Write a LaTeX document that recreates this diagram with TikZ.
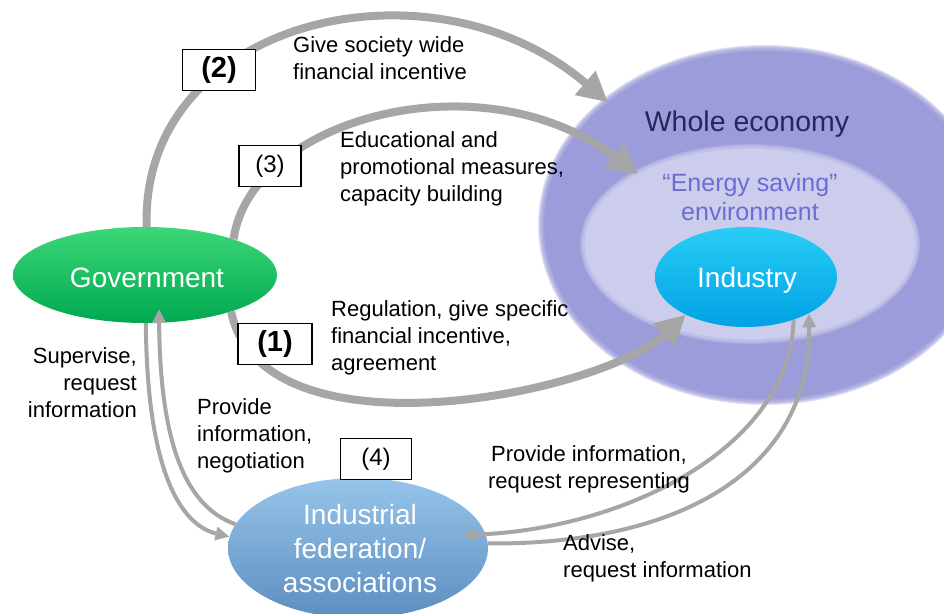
\documentclass[tikz,border=0pt]{standalone}
\usepackage{fontspec}
\setmainfont{Liberation Sans}
\usetikzlibrary{shapes.geometric,arrows.meta,calc}

\definecolor{arrowgrey}{RGB}{166,166,166}
\definecolor{ecofill}{RGB}{156,156,219}
\definecolor{envfill}{RGB}{204,204,237}
\definecolor{ecotext}{RGB}{38,38,92}
\definecolor{envtext}{RGB}{108,108,210}
\definecolor{govtop}{RGB}{60,215,120}
\definecolor{govmid}{RGB}{10,190,95}
\definecolor{govbot}{RGB}{0,168,80}
\definecolor{fedtop}{RGB}{150,196,234}
\definecolor{fedbot}{RGB}{92,142,192}
\definecolor{indtop}{RGB}{40,205,245}
\definecolor{indbot}{RGB}{0,162,228}

\begin{document}
\begin{tikzpicture}[x=1pt,y=-1pt,
  bigarrow/.style={draw=arrowgrey, line width=8pt, -{Triangle[length=30pt,width=30pt]}},
  thinarrow/.style={draw=arrowgrey, line width=4pt, -{Triangle[length=14pt,width=13pt]}},
  numbox/.style={draw=black, line width=1.8pt, fill=white, minimum height=41pt, inner sep=0pt},
  lbl/.style={font=\fontsize{22}{27}\selectfont, inner sep=0pt, text=black},
  oval/.style={ellipse, inner sep=0pt},
  ovaltext/.style={text=white, inner sep=0pt, align=center, font=\fontsize{28}{34}\selectfont}]

\useasboundingbox (0,0) rectangle (944,613);
\fill[white] (0,0) rectangle (944,613);

% whole economy, with a soft rim
\foreach \d in {1,...,6}
  \fill[ecofill, opacity=0.3] (765,225) ellipse [x radius={(221+\d)*1pt}, y radius={(174+\d)*1pt}];
\node[oval, fill=ecofill, minimum width=442pt, minimum height=348pt] (eco) at (765,225) {};

% energy saving environment, with a soft rim
\foreach \d in {1,...,5}
  \fill[envfill, opacity=0.3] (750,244) ellipse [x radius={(165+\d)*1pt}, y radius={(95+\d)*1pt}];
\node[oval, fill=envfill, minimum width=330pt, minimum height=190pt] (env) at (750,244) {};

\node[text=ecotext, inner sep=0pt, font=\fontsize{28.5}{34}\selectfont] (ecolabel) at (747,124) {Whole economy};
\node[text=envtext, inner sep=0pt, align=center, font=\fontsize{25}{29}\selectfont] (envlabel) at (750,197) {``Energy saving''\\environment};

% actors
\node[oval, top color=indtop, bottom color=indbot, minimum width=182pt, minimum height=100pt] (ind) at (746,277) {};
\node[ovaltext] (indlabel) at (747,280) {Industry};

\node[oval, top color=govtop, middle color=govmid, bottom color=govbot, minimum width=264pt, minimum height=96pt] (gov) at (145,275) {};
\node[ovaltext] (govlabel) at (147,278) {Government};

\node[oval, top color=fedtop, bottom color=fedbot, minimum width=260pt, minimum height=140pt] (fed) at (358,548) {};
\node[ovaltext] (fedlabel) at (360,548) {Industrial\\federation/\\associations};

% policy channels from government
\draw[bigarrow] (gov.88) .. controls (140,20) and (430,-50) .. (eco.142);
\draw[bigarrow] (gov.22) .. controls (250,120) and (480,55) .. (env.148);
\draw[bigarrow] (gov.-23) .. controls (262,462) and (600,395) .. (ind.212);

% exchanges between government and the federation
\draw[thinarrow] (gov.-89) .. controls (147,470) and (180,525) .. (fed.175);
\draw[thinarrow] (fed.169) .. controls (180,505) and (160,430) .. ($(gov.center)+(14,34)$);

% exchanges between industry and the federation
\draw[thinarrow] (ind.-42) .. controls (790,450) and (620,530) .. ($(fed.center)+(104,-13)$);
\draw[thinarrow] (fed.2) .. controls (680,545) and (812,470) .. (ind.-30);

% channel numbers
\node[numbox, minimum width=73pt, font=\bfseries\fontsize{29}{34}\selectfont] (n2) at (219,70) {(2)};
\node[numbox, minimum width=62pt, font=\fontsize{24}{28}\selectfont] (n3) at (270,166) {(3)};
\node[numbox, minimum width=74pt, font=\bfseries\fontsize{29}{34}\selectfont] (n1) at (275,344) {(1)};
\node[numbox, minimum width=71pt, font=\fontsize{24}{28}\selectfont] (n4) at (376,459) {(4)};

% channel descriptions
\node[lbl, anchor=west, align=left] (t2) at (293,58) {Give society wide\\financial incentive};
\node[lbl, anchor=west, align=left] (t3) at (340,169) {Educational and\\promotional measures,\\capacity building};
\node[lbl, anchor=west, align=left] (t1) at (331,338) {Regulation, give specific\\financial incentive,\\agreement};
\node[lbl, anchor=east, align=right] (tsup) at (137,383) {Supervise,\\request\\information};
\node[lbl, anchor=west, align=left] (tprov) at (197,436) {Provide\\information,\\negotiation};
\node[lbl, align=center] (trep) at (589,469) {Provide information,\\request representing};
\node[lbl, anchor=west, align=left] (tadv) at (563,558) {Advise,\\request information};

\end{tikzpicture}
\end{document}
